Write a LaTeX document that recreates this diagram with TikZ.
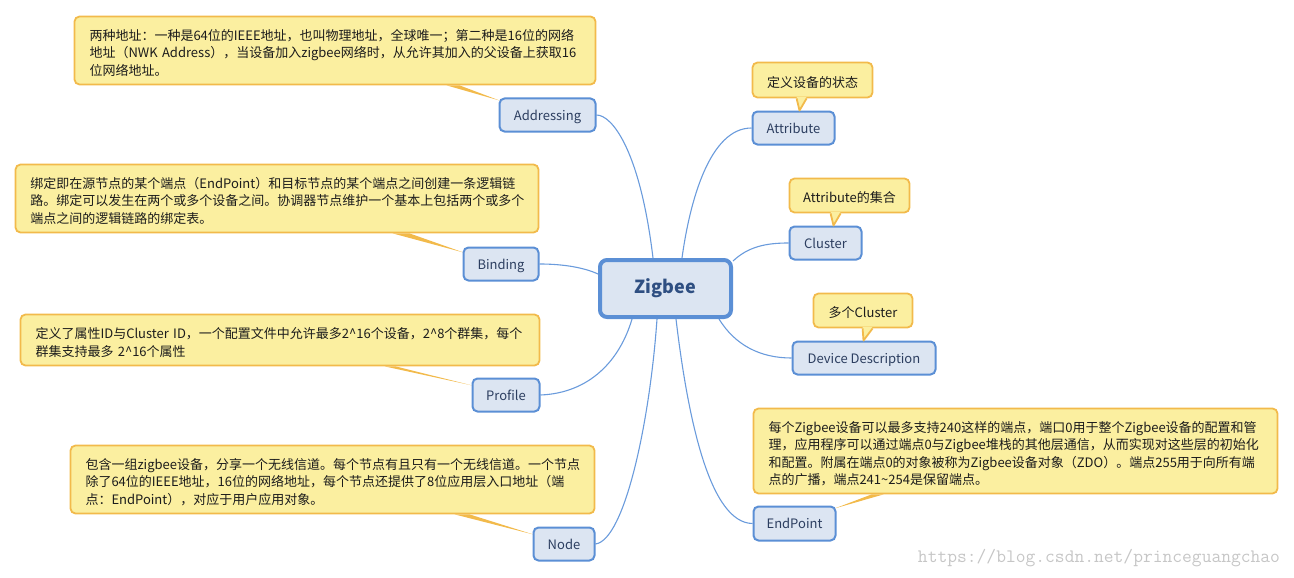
\documentclass[tikz,border=0pt]{standalone}
\usepackage{fontspec}
\setmainfont{Noto Sans CJK SC}
\usetikzlibrary{calc,backgrounds}
\definecolor{callfill}{HTML}{FBEFA0}
\definecolor{callborder}{HTML}{F2BA4B}
\definecolor{nodefill}{HTML}{DCE5F2}
\definecolor{nodeborder}{HTML}{5B8FD5}
\definecolor{nodetext}{HTML}{2C3E60}
\definecolor{zigtext}{HTML}{2F4F82}
\definecolor{connblue}{HTML}{6A9BDC}
\definecolor{calltext}{HTML}{1C1C1C}
\newcommand{\callfirst}{\rule{0pt}{20pt}}
\newcommand{\calllast}{\rule[-5.2pt]{0pt}{5.2pt}}
\lineskiplimit=-100pt
\lineskip=0pt
\normallineskiplimit=-100pt
\normallineskip=0pt
\begin{document}
\begin{tikzpicture}[x=1pt,y=-1pt,
  topic/.style={draw=nodeborder, fill=nodefill, line width=2pt, rounded corners=5pt,
    text=nodetext, font=\fontsize{13}{15}\selectfont, minimum height=33pt, inner sep=0pt,
    text height=12.4pt, text depth=2pt},
  callout/.style={draw=callborder, fill=callfill, line width=1.8pt, rounded corners=5pt,
    text=calltext, inner xsep=15pt, inner ysep=0pt, align=left,
    font=\fontsize{13}{17.5}\selectfont},
  shortcall/.style={draw=callborder, fill=callfill, line width=1.8pt, rounded corners=5pt,
    text=calltext, inner sep=0pt, align=center, font=\fontsize{13}{15}\selectfont,
    text height=15.5pt, text depth=1.2pt},
  conn/.style={draw=connblue, line width=1.1pt},
  wedge/.style={fill=callborder},
  tailfill/.style={fill=callfill},
  tailline/.style={draw=callborder, line width=1.8pt, line join=round}]
\useasboundingbox (0,0) rectangle (1294,578);

% central topic
\node[topic, minimum width=131pt, minimum height=57pt, line width=4pt, rounded corners=7pt,
  font=\fontsize{18}{20}\selectfont\bfseries, text=zigtext, text height=12pt, text depth=2.7pt] (zig) at (665.5,288.5) {Zigbee};

% sub topics
\node[topic, minimum width=96pt] (addr) at (547.5,115) {Addressing};
\node[topic, minimum width=75pt] (bind) at (501,264) {Binding};
\node[topic, minimum width=67pt] (prof) at (506,395) {Profile};
\node[topic, minimum width=61pt] (nd) at (564,544) {Node};
\node[topic, minimum width=82pt] (attr) at (793.5,128) {Attribute};
\node[topic, minimum width=72pt] (clus) at (825.5,243) {Cluster};
\node[topic, minimum width=143pt] (dev) at (864,358) {Device Description};
\node[topic, minimum width=82pt, minimum height=34pt] (endp) at (794.5,523.5) {EndPoint};

% long callouts
\node[callout, text width=491pt, minimum height=68pt] (addrc) at (335,50.5) {%
\mbox{\callfirst 两种地址：一种是64位的IEEE地址，也叫物理地址，全球唯一；第二种是16位的网络}\\
\mbox{地址（NWK Address），当设备加入zigbee网络时，从允许其加入的父设备上获取16}\\
\mbox{位网络地址。\calllast}};
\node[callout, text width=493pt, minimum height=68pt] (bindc) at (277,198.5) {%
\mbox{\callfirst 绑定即在源节点的某个端点（EndPoint）和目标节点的某个端点之间创建一条逻辑链}\\
\mbox{路。绑定可以发生在两个或多个设备之间。协调器节点维护一个基本上包括两个或多个}\\
\mbox{端点之间的逻辑链路的绑定表。\calllast}};
\node[callout, text width=489pt, minimum height=51pt] (profc) at (280,340) {%
\mbox{\callfirst 定义了属性ID与Cluster ID，一个配置文件中允许最多2\textasciicircum{}16个设备，2\textasciicircum{}8个群集，每个}\\
\mbox{群集支持最多 2\textasciicircum{}16个属性\calllast}};
\node[callout, text width=494pt, minimum height=68pt] (ndc) at (332.5,479.5) {%
\mbox{\callfirst 包含一组zigbee设备，分享一个无线信道。每个节点有且只有一个无线信道。一个节点}\\
\mbox{除了64位的IEEE地址，16位的网络地址，每个节点还提供了8位应用层入口地址（端}\\
\mbox{点：EndPoint），对应于用户应用对象。\calllast}};
\node[callout, text width=494pt, minimum height=85pt] (endpc) at (1015.5,451) {%
\mbox{\callfirst 每个Zigbee设备可以最多支持240这样的端点，端口0用于整个Zigbee设备的配置和管}\\
\mbox{理，应用程序可以通过端点0与Zigbee堆栈的其他层通信，从而实现对这些层的初始化}\\
\mbox{和配置。附属在端点0的对象被称为Zigbee设备对象（ZDO）。端点255用于向所有端}\\
\mbox{点的广播，端点241\textasciitilde{}254是保留端点。\calllast}};

% short callouts
\node[shortcall, minimum width=120pt, minimum height=35pt] (attrc) at (812.5,80) {定义设备的状态};
\node[shortcall, minimum width=120pt, minimum height=34pt] (clusc) at (849.5,195.5) {Attribute的集合};
\node[shortcall, minimum width=99pt, minimum height=34pt] (devc) at (863,310.5) {多个Cluster};

% speech tails of the short callouts
\fill[tailfill] ($(attrc.south west)+(45,-1.6)$) -- ($(attrc.south west)+(55,-1.6)$) -- ($(attr.north west)+(48,0)$) -- cycle;
\draw[tailline] ($(attrc.south west)+(45,0)$) -- ($(attr.north west)+(48,0)$) -- ($(attrc.south west)+(55,0)$);
\fill[tailfill] ($(clusc.south west)+(42,-1.6)$) -- ($(clusc.south west)+(52,-1.6)$) -- ($(clus.north west)+(45,0)$) -- cycle;
\draw[tailline] ($(clusc.south west)+(42,0)$) -- ($(clus.north west)+(45,0)$) -- ($(clusc.south west)+(52,0)$);
\fill[tailfill] ($(devc.south west)+(50,-1.6)$) -- ($(devc.south west)+(60,-1.6)$) -- ($(dev.north west)+(72,0)$) -- cycle;
\draw[tailline] ($(devc.south west)+(50,0)$) -- ($(dev.north west)+(72,0)$) -- ($(devc.south west)+(60,0)$);

% watermark
\node[font=\ttfamily\fontsize{19}{20}\selectfont, text=gray!45, inner sep=0pt] (wm) at (1099,558) {https://blog.csdn.net/princeguangchao};

\begin{scope}[on background layer]
% wedges from long callouts to their topics
\fill[wedge] ($(addrc.south west)+(373,0)$) -- ($(addrc.south west)+(386,0)$) -- ($(addr.north west)+(1,3)$) -- cycle;
\fill[wedge] ($(bindc.south west)+(378,0)$) -- ($(bindc.south west)+(395,0)$) -- ($(bind.north west)+(1,6)$) -- cycle;
\fill[wedge] ($(profc.south west)+(365,0)$) -- ($(profc.south west)+(376,0)$) -- ($(prof.north west)+(1,8)$) -- cycle;
\fill[wedge] ($(ndc.south west)+(385,0)$) -- ($(ndc.south west)+(400,0)$) -- ($(nd.north west)+(1,8)$) -- cycle;
\fill[wedge] ($(endpc.south west)+(119,0)$) -- ($(endpc.south west)+(131,0)$) -- ($(endp.north east)+(-2,3)$) -- cycle;

% connectors
\draw[conn] (addr.east) .. controls (612,115) and (640,150) .. ($(zig.north)+(-12.5,0)$);
\draw[conn] ($(zig.north)+(16.5,0)$) .. controls (690,200) and (710,128) .. (attr.west);
\draw[conn] ($(zig.north east)+(0,3)$) .. controls (748,247) and (765,243) .. (clus.west);
\draw[conn] ($(zig.south)+(53.5,0)$) .. controls (735,345) and (760,358) .. (dev.west);
\draw[conn] (bind.east) .. controls (565,264) and (585,268) .. ($(zig.west)+(0,-14.5)$);
\draw[conn] (prof.east) .. controls (590,393) and (620,360) .. ($(zig.south)+(-33.5,0)$);
\draw[conn] (nd.east) .. controls (625,540) and (650,420) .. ($(zig.south)+(-8.5,0)$);
\draw[conn] ($(zig.south)+(10.5,0)$) .. controls (688,420) and (710,523) .. (endp.west);
\end{scope}
\end{tikzpicture}
\end{document}
